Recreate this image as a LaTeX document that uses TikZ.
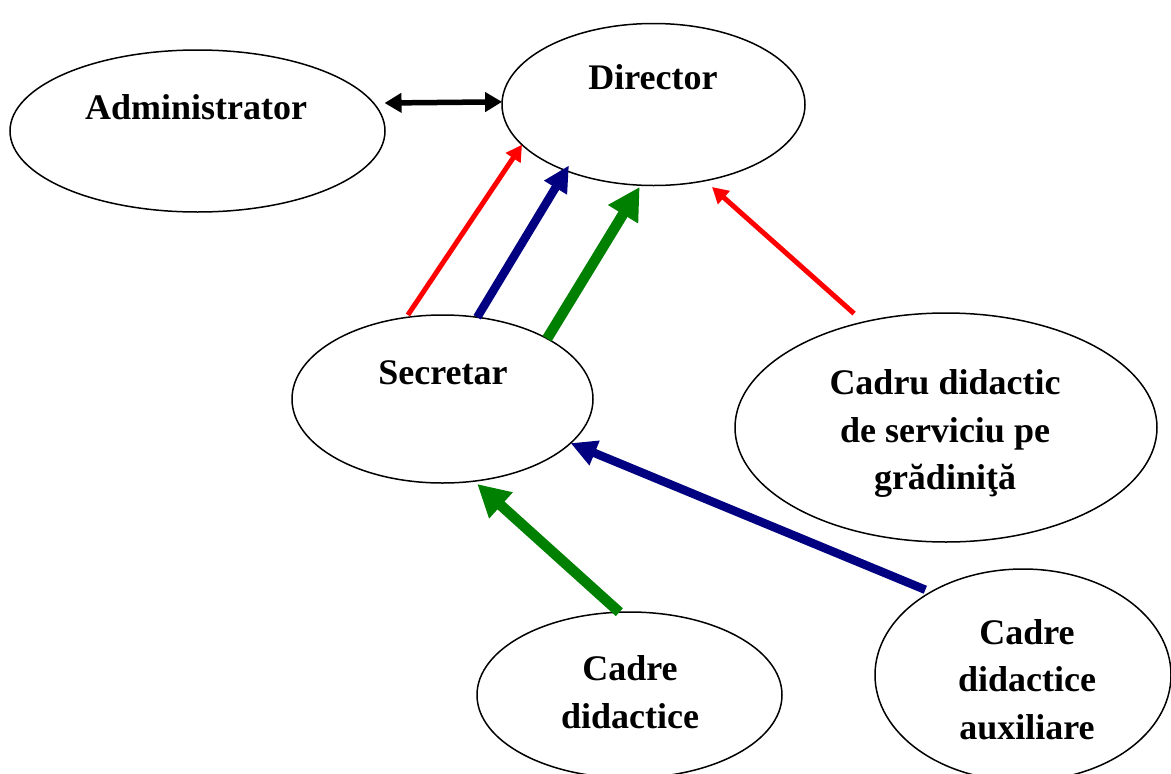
\documentclass[tikz,border=0pt]{standalone}
\usepackage{fontspec}
\setmainfont{Liberation Serif}
\usetikzlibrary{shapes.geometric,arrows.meta}
\begin{document}
\begin{tikzpicture}[x=1pt,y=-1pt,
  ell/.style={draw, line width=1.5pt, ellipse, inner sep=0pt, outer sep=0pt},
  lbl/.style={font=\bfseries\fontsize{36}{47.5}\selectfont, align=center, inner sep=0pt},
  blkA/.style={line width=5.5pt, black, {Triangle[length=17pt,width=19pt]}-{Triangle[length=17pt,width=19pt]}},
  redA/.style={line width=5pt, red, -{Triangle[length=16pt,width=17pt]}},
  blueA/.style={line width=8.5pt, navyblue, -{Triangle[length=26pt,width=25pt]}},
  greenA/.style={line width=10.5pt, darkgreen, -{Triangle[length=32pt,width=33pt]}}
]
\definecolor{navyblue}{RGB}{0,0,128}
\definecolor{darkgreen}{RGB}{0,128,0}
\useasboundingbox (0,0) rectangle (1171,774);

% ellipses
\node[ell, minimum width=375pt, minimum height=162pt] (adm) at (197.5,131) {};
\node[ell, minimum width=303pt, minimum height=162pt] (dir) at (653.5,104.5) {};
\node[ell, minimum width=301pt, minimum height=168pt] (sec) at (442.5,399) {};
\node[ell, minimum width=422pt, minimum height=229pt] (cad) at (946,427.5) {};
\node[ell, minimum width=305pt, minimum height=166pt] (cdd) at (629.5,695) {};
\node[ell, minimum width=296pt, minimum height=212pt] (aux) at (1023,675) {};

% texts
\node[lbl, anchor=base] (admT) at (196,119) {Administrator};
\node[lbl, anchor=base] (dirT) at (653,89) {Director};
\node[lbl, anchor=base] (secT) at (443,384) {Secretar};
\node[lbl] (cadT) at (945,433.5) {Cadru didactic\\de serviciu pe\\grădiniţă};
\node[lbl] (cddT) at (630,692) {Cadre\\didactice};
\node[lbl] (auxT) at (1027,679.5) {Cadre\\didactice\\auxiliare};

% connectors
\draw[blkA, shorten <=11pt] (adm.9.15) -- (dir.179.3);
\draw[redA, shorten <=3pt] (sec.114.6) -- (dir.197.2);
\draw[blueA, shorten >=-6pt] (sec.67.2) -- (dir.217.5);
\draw[greenA, shorten >=2pt] (sec.30.3) -- (dir.261.3);
\draw[redA, shorten <=12.8pt, shorten >=9.5pt] (cad.128.9) -- (dir.304.1);
\draw[blueA, shorten <=6pt] (aux.138.2) -- (sec.341.8);
\draw[greenA, shorten >=4.3pt] (cdd.97.2) -- (sec.291.5);
\end{tikzpicture}
\end{document}
